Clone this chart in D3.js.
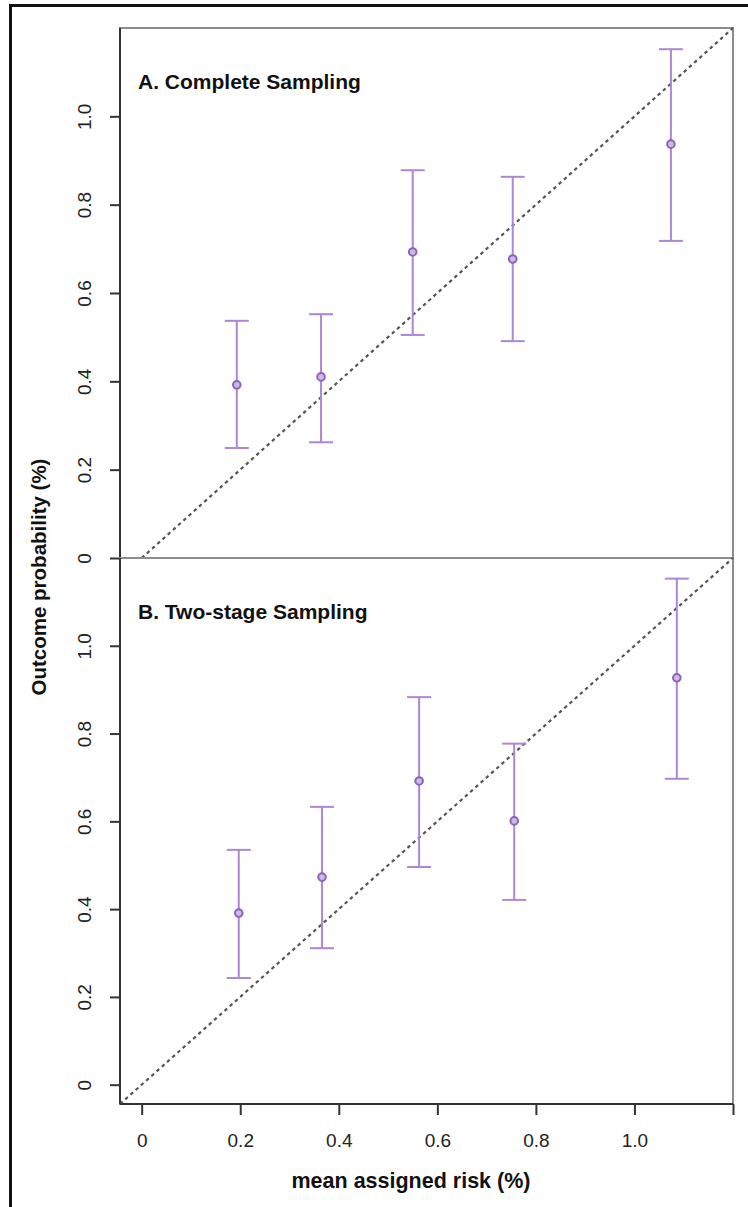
<!DOCTYPE html>
<html lang="en">
<head>
  <meta charset="UTF-8">
  <title>Calibration plot</title>
  <style>
    body { margin: 0; background: #fff; }
    svg text { font-family: "Liberation Sans", Arial, Helvetica, sans-serif; }
    .tick line { stroke: #333; stroke-width: 2px; }
    .tick text { fill: #222; font-size: 19px; }
  </style>
  <script src="https://d3js.org/d3.v7.min.js"></script>
</head>
<body>
<div id="chart"></div>
<script>
  // panel A: complete sampling
  var riskA  = [0.193, 0.364, 0.550, 0.753, 1.074];
  var probA  = [0.392, 0.410, 0.693, 0.677, 0.937];
  var lowerA = [0.249, 0.262, 0.505, 0.491, 0.718];
  var upperA = [0.537, 0.552, 0.878, 0.863, 1.152];

  // panel B: two-stage sampling
  var riskB  = [0.197, 0.366, 0.563, 0.756, 1.086];
  var probB  = [0.391, 0.473, 0.692, 0.601, 0.927];
  var lowerB = [0.243, 0.311, 0.496, 0.421, 0.697];
  var upperB = [0.535, 0.633, 0.883, 0.777, 1.153];

  var yTicks = [0, 0.2, 0.4, 0.6, 0.8, 1.0];
  var xTicks = [0, 0.2, 0.4, 0.6, 0.8, 1.0, 1.2];
  var titles = ["A. Complete Sampling", "B. Two-stage Sampling"];

  var width = 748, height = 1207;
  var left = 120, right = 733;
  var fmt = d => d === 0 ? "0" : d3.format(".1f")(d);

  var svg = d3.select("#chart").append("svg")
    .attr("width", width)
    .attr("height", height);

  // outer frame (cut off at right and bottom)
  svg.append("rect")
    .attr("x", 10.5).attr("y", 5.5)
    .attr("width", 800).attr("height", 1300)
    .attr("fill", "none").attr("stroke", "#111").attr("stroke-width", 3);

  var x = d3.scaleLinear().domain([-0.044, 1.2]).range([left, right]);

  var panels = [
    { top: 28, bottom: 558, y: d3.scaleLinear().domain([0, 1.2]).range([558, 28]),
      risk: riskA, prob: probA, lo: lowerA, hi: upperA, title: titles[0], dMin: 0 },
    { top: 558, bottom: 1104, y: d3.scaleLinear().domain([-0.044, 1.2]).range([1104, 558]),
      risk: riskB, prob: probB, lo: lowerB, hi: upperB, title: titles[1], dMin: -0.044 }
  ];

  panels.forEach(function(p) {
    var g = svg.append("g");
    var y = p.y;

    // box
    g.append("rect")
      .attr("x", left).attr("y", p.top)
      .attr("width", right - left).attr("height", p.bottom - p.top)
      .attr("fill", "none").attr("stroke", "#8c8c8c").attr("stroke-width", 2);

    // left axis line
    g.append("line")
      .attr("x1", left).attr("x2", left)
      .attr("y1", p.top).attr("y2", p.bottom)
      .attr("stroke", "#333").attr("stroke-width", 2);

    // y ticks, labels turned sideways
    var ax = g.append("g")
      .attr("transform", `translate(${left},0)`)
      .call(d3.axisLeft(y).tickValues(yTicks).tickFormat(fmt).tickSize(10).tickSizeOuter(0));
    ax.select(".domain").remove();
    ax.selectAll(".tick text")
      .attr("x", null).attr("dy", null)
      .attr("text-anchor", "middle")
      .attr("transform", "translate(-29,0) rotate(-90)");

    // diagonal reference line
    var d0 = p.dMin, d1 = 1.2;
    g.append("line")
      .attr("x1", x(d0)).attr("y1", y(d0))
      .attr("x2", x(d1)).attr("y2", y(d1))
      .attr("stroke", "#555").attr("stroke-width", 2.2)
      .attr("stroke-dasharray", "3.5,3.5");

    // error bars
    var idx = d3.range(p.risk.length);
    g.selectAll(".bar").data(idx).join("line")
      .attr("x1", d => x(p.risk[d])).attr("x2", d => x(p.risk[d]))
      .attr("y1", d => y(p.lo[d])).attr("y2", d => y(p.hi[d]))
      .attr("stroke", "#aa88d3").attr("stroke-width", 2);
    g.selectAll(".capHi").data(idx).join("line")
      .attr("x1", d => x(p.risk[d]) - 12).attr("x2", d => x(p.risk[d]) + 12)
      .attr("y1", d => y(p.hi[d])).attr("y2", d => y(p.hi[d]))
      .attr("stroke", "#aa88d3").attr("stroke-width", 2);
    g.selectAll(".capLo").data(idx).join("line")
      .attr("x1", d => x(p.risk[d]) - 12).attr("x2", d => x(p.risk[d]) + 12)
      .attr("y1", d => y(p.lo[d])).attr("y2", d => y(p.lo[d]))
      .attr("stroke", "#aa88d3").attr("stroke-width", 2);

    // points
    g.selectAll("circle").data(idx).join("circle")
      .attr("cx", d => x(p.risk[d])).attr("cy", d => y(p.prob[d]))
      .attr("r", 3.8)
      .attr("fill", "#cdb8e6").attr("stroke", "#8d62bb").attr("stroke-width", 2);

    // panel title
    g.append("text")
      .attr("x", 138).attr("y", p.top + 61)
      .attr("font-size", 21).attr("font-weight", "bold").attr("fill", "#111")
      .text(p.title);
  });

  // x axis on the bottom panel
  var xa = svg.append("g")
    .attr("transform", "translate(0,1104)")
    .call(d3.axisBottom(x).tickValues(xTicks).tickFormat(d => d > 1.1 ? "" : fmt(d)).tickSize(11).tickSizeOuter(0));
  xa.select(".domain").remove();
  xa.selectAll(".tick text").attr("y", 43).attr("dy", null);
  svg.append("line")
    .attr("x1", left).attr("x2", right).attr("y1", 1104).attr("y2", 1104)
    .attr("stroke", "#333").attr("stroke-width", 2);

  // axis titles
  svg.append("text")
    .attr("x", 411).attr("y", 1188)
    .attr("text-anchor", "middle")
    .attr("font-size", 21.5).attr("font-weight", "bold").attr("fill", "#111")
    .text("mean assigned risk (%)");

  svg.append("text")
    .attr("transform", "translate(46,577) rotate(-90)")
    .attr("text-anchor", "middle")
    .attr("font-size", 20.5).attr("font-weight", "bold").attr("fill", "#111")
    .text("Outcome probability (%)");
</script>
</body>
</html>
